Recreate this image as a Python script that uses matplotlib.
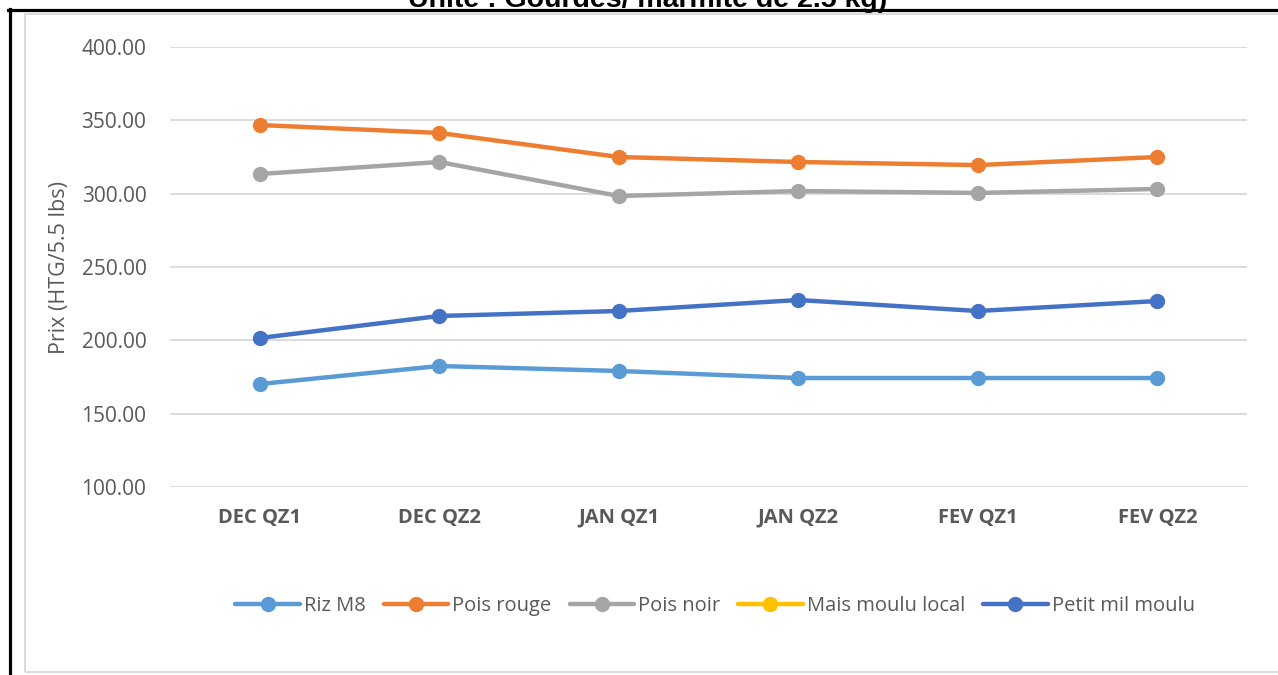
import matplotlib.pyplot as plt
from matplotlib.lines import Line2D
from matplotlib.patches import Rectangle

periods = ["DEC QZ1", "DEC QZ2", "JAN QZ1", "JAN QZ2", "FEV QZ1", "FEV QZ2"]
riz_m8 = [170.2, 182.5, 179.1, 174.3, 174.3, 174.3]
pois_rouge = [346.8, 341.4, 325.0, 321.6, 319.5, 325.0]
pois_noir = [313.4, 321.6, 298.4, 301.8, 300.5, 303.2]
mais_moulu = [None] * 6
petit_mil = [201.6, 216.6, 220.0, 227.5, 220.0, 226.8]

series = [
    ("Riz M8", riz_m8, "#5B9BD5"),
    ("Pois rouge", pois_rouge, "#ED7D31"),
    ("Pois noir", pois_noir, "#A5A5A5"),
    ("Mais moulu local", mais_moulu, "#FFC000"),
    ("Petit mil moulu", petit_mil, "#4472C4"),
]

plt.rcParams["font.family"] = ["Open Sans", "DejaVu Sans"]
W, H = 1278, 675
fig = plt.figure(figsize=(W / 100, H / 100), dpi=100)

# page frame and chart border
fig.add_artist(Line2D([8 / W, 1], [1 - 10 / H, 1 - 10 / H], color="black", lw=2.3,
                      transform=fig.transFigure))
fig.add_artist(Line2D([10 / W, 10 / W], [0, 1 - 9 / H], color="black", lw=2.3,
                      transform=fig.transFigure))
fig.add_artist(Rectangle((25 / W, 1 - 672 / H), 1.2, (672 - 14) / H, fill=False,
                         edgecolor="#D9D9D9", lw=1.3, transform=fig.transFigure))

# title sits above the page frame and is partly cut off, as in the source
fig.text(648 / W, 1 - 7 / H, "Unité : Gourdes/ marmite de 2.5 kg)",
         family=["Liberation Sans", "DejaVu Sans"], fontweight="bold", fontsize=20.5,
         ha="center", va="baseline")

ax = fig.add_axes([170 / W, 1 - 487 / H, (1247 - 170) / W, (487 - 47) / H])
x = list(range(len(periods)))
for name, vals, color in series:
    ys = [v if v is not None else float("nan") for v in vals]
    ax.plot(x, ys, color=color, lw=3.2, marker="o", markersize=10, label=name,
            solid_capstyle="round")

ax.set_xlim(-0.5, len(periods) - 0.5)
ax.set_ylim(100, 400)
ax.set_yticks(range(100, 401, 50))
ax.set_yticklabels([f"{v:.2f}" for v in range(100, 401, 50)])
ax.set_xticks(x)
ax.set_xticklabels(periods, fontweight="bold", fontsize=14.5)
ax.grid(axis="y", color="#D9D9D9", lw=1.3)
ax.set_axisbelow(True)
for s in ax.spines.values():
    s.set_visible(False)
ax.tick_params(axis="both", length=0, colors="#595959")
ax.tick_params(axis="y", pad=17, labelsize=15)
ax.tick_params(axis="x", pad=15)
ax.set_ylabel("Prix (HTG/5.5 lbs)", color="#595959", fontsize=15.5, labelpad=8)

ax.legend(loc="center", bbox_to_anchor=(715 / W, 1 - 606 / H), bbox_transform=fig.transFigure,
          ncol=5, frameon=False, fontsize=14.5, handlelength=3.2, columnspacing=0.9,
          handletextpad=0.2, labelcolor="#595959")

fig.savefig("out.png", dpi=100)
